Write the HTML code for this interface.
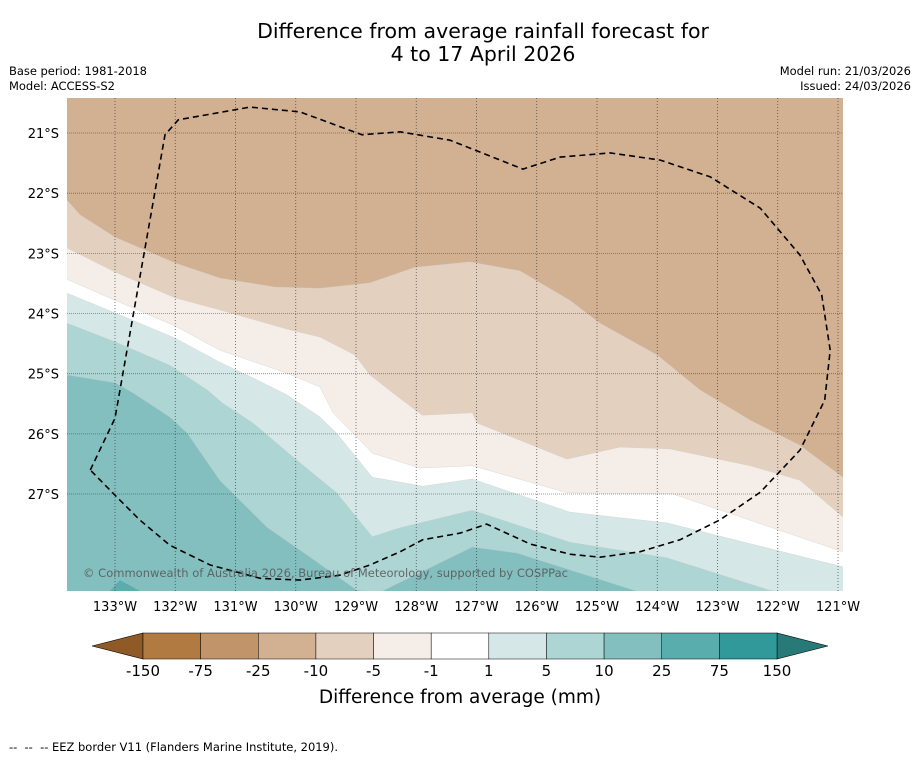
<!DOCTYPE html>
<html><head><meta charset="utf-8"><style>
body{margin:0;background:#fff;font-family:"Liberation Sans","DejaVu Sans",sans-serif;}
</style></head><body>
<svg id="chart" width="919" height="758" xmlns="http://www.w3.org/2000/svg" style="font-family:'DejaVu Sans','Liberation Sans',sans-serif">
<rect width="919" height="758" fill="#fff"/>
<text x="483" y="38" font-size="20.5" text-anchor="middle">Difference from average rainfall forecast for</text>
<text x="483" y="61" font-size="20.5" text-anchor="middle">4 to 17 April 2026</text>
<text x="9" y="75" font-size="11.5" textLength="138">Base period: 1981-2018</text>
<text x="9" y="90" font-size="11.5" textLength="106">Model: ACCESS-S2</text>
<text x="911" y="75" font-size="11.5" text-anchor="end">Model run: 21/03/2026</text>
<text x="911" y="90" font-size="11.5" text-anchor="end">Issued: 24/03/2026</text>
<defs><clipPath id="mapclip"><rect x="67" y="98" width="776" height="493"/></clipPath></defs>
<g id="map" clip-path="url(#mapclip)"></g>
<g id="grid"></g>
<g id="eez" clip-path="url(#mapclip)"></g>
<text x="83" y="577" font-size="11.5" textLength="485" fill="#555" fill-opacity="0.85">© Commonwealth of Australia 2026, Bureau of Meteorology, supported by COSPPac</text>
<g id="ticks"></g>
<g id="cbar"></g>
<text x="460" y="703" font-size="18.5" text-anchor="middle">Difference from average (mm)</text>
<text x="9" y="751" font-size="11.5" textLength="329">-- &#160;-- &#160;-- EEZ border V11 (Flanders Marine Institute, 2019).</text>
</svg>
<script>
// Contour boundaries (lon °W, lat °S), each is the upper edge of a band
const bandColors = ["#d2b092","#e4d0bf","#f4ede8","#ffffff","#d5e8e7","#acd5d4","#84bfbf","#5aadad"];
const line10 = [[133.8,22.11],[133.58,22.36],[133,22.73],[132,23.16],[131.26,23.41],[130.34,23.56],[129.6,23.58],[128.77,23.49],[128.02,23.23],[127.11,23.14],[126.28,23.29],[125.45,23.78],[124.95,24.16],[124,24.69],[123.29,25.27],[122.46,25.77],[121.63,26.19],[120.92,26.72]];
const line5 = [[133.8,22.91],[133,23.31],[132,23.74],[131.26,23.94],[130.1,24.27],[129.6,24.39],[129.02,24.69],[128.77,25.02],[128.35,25.35],[127.9,25.69],[127.07,25.65],[126.99,25.82],[125.5,26.42],[124.62,26.22],[123.79,26.25],[122.46,26.53],[121.63,26.77],[120.92,27.38]];
const line1n = [[133.8,23.43],[133,23.78],[132,24.21],[131.26,24.61],[130.15,24.99],[129.6,25.22],[129.38,25.65],[128.73,26.32],[127.94,26.57],[127.07,26.53],[125.5,26.98],[123.74,27.0],[120.92,27.96]];
const line1p = [[133.8,23.66],[133,23.99],[132,24.41],[131.26,24.81],[130.71,25.07],[130.15,25.35],[129.6,25.72],[129.32,25.99],[128.73,26.72],[127.89,26.87],[127.07,26.75],[125.45,27.3],[123.84,27.48],[120.92,28.21]];
const line5p = [[133.8,24.16],[133,24.47],[132.09,24.86],[131.47,25.27],[131.21,25.49],[130.71,25.82],[130.05,26.38],[129.32,26.98],[128.73,27.71],[128.27,27.56],[127.07,27.27],[125.45,27.8],[123.84,28.06],[122.13,28.6],[120.92,28.76]];
const line10p = [[133.8,25.02],[133,25.15],[132.7,25.32],[132.09,25.72],[131.8,25.99],[131.26,26.77],[130.48,27.55],[129.76,28.05],[128.98,28.6],[128.6,28.63],[127.07,27.88],[126.33,27.98],[124.29,28.63],[120.92,29.6]];
const patch25 = [[133.08,28.61],[132.92,28.43],[132.59,28.61]];
const eezBorder = [[133.41,26.6],[133,25.74],[132.17,21.03],[131.95,20.78],[130.76,20.57],[129.93,20.65],[128.9,21.03],[128.27,20.98],[127.44,21.12],[126.23,21.6],[125.61,21.4],[124.78,21.33],[123.95,21.45],[123.12,21.73],[122.29,22.25],[121.63,23.03],[121.27,23.69],[121.13,24.61],[121.22,25.44],[121.63,26.27],[122.29,26.97],[122.96,27.43],[123.62,27.76],[124.29,27.96],[124.95,28.05],[125.45,28.0],[126.11,27.83],[126.83,27.5],[127.27,27.65],[127.89,27.76],[128.27,27.96],[128.77,28.18],[129.27,28.35],[129.93,28.43],[130.59,28.4],[131.42,28.18],[132.09,27.85],[132.59,27.43],[133,27.02],[133.41,26.6]];
const lonTicks = [133,132,131,130,129,128,127,126,125,124,123,122,121];
const latTicks = [21,22,23,24,25,26,27];
const cbarLabels = ["-150","-75","-25","-10","-5","-1","1","5","10","25","75","150"];
const cbarColors = ["#b07a40","#c19469","#d2b092","#e4d0bf","#f4ede8","#ffffff","#d5e8e7","#acd5d4","#84bfbf","#5aadad","#32999a"];

const NS="http://www.w3.org/2000/svg";
const xS = lonW => 115 + (133 - lonW) * 60.25;
const yS = latS => 133 + (latS - 21) * 60.17;
function mk(tag, attrs, parent){const e=document.createElementNS(NS,tag);for(const k in attrs)e.setAttribute(k,attrs[k]);parent.appendChild(e);return e;}
function pts(line){return line.map(p=>xS(p[0]).toFixed(1)+","+yS(p[1]).toFixed(1)).join(" ");}
const map=document.getElementById("map");
const bg=mk("rect",{x:60,y:90,width:800,height:520,fill:bandColors[0]},map);


const lines=[line10,line5,line1n,line1p,line5p,line10p];
const names=['band-minus10-to-minus5','band-minus5-to-minus1','band-minus1-to-1','band-1-to-5','band-5-to-10','band-10-to-25'];
lines.forEach((ln,i)=>{
  const first=ln[0], last=ln[ln.length-1];
  const poly = pts(ln)+" "+(xS(last[0])+20)+","+yS(last[1])+" "+(xS(last[0])+20)+",700 "+(xS(first[0])-20)+",700 "+(xS(first[0])-20)+","+yS(first[1]);
  const e=mk("polygon",{points:poly,fill:bandColors[i+1],stroke:"#c8c8c8","stroke-width":0.5,"stroke-opacity":0.6},map);
  
  
});
const p25=mk("polygon",{points:pts(patch25),fill:bandColors[7]},map);



const grid=document.getElementById("grid");
const ticks=document.getElementById("ticks");
lonTicks.forEach(l=>{
  const x=xS(l);
  const g=mk("line",{x1:x,x2:x,y1:98,y2:591,stroke:"#333","stroke-width":0.8,"stroke-dasharray":"1,2","stroke-opacity":0.8},grid);
  
  
  const t=mk("text",{x:x,y:611,"font-size":13,"text-anchor":"middle"},ticks);
  t.textContent=l+"°W";
  
  
});
latTicks.forEach(l=>{
  const y=yS(l);
  const g=mk("line",{x1:67,x2:843,y1:y,y2:y,stroke:"#333","stroke-width":0.8,"stroke-dasharray":"1,1","stroke-opacity":0.6},grid);
  
  
  const t=mk("text",{x:59,y:y+5,"font-size":13,"text-anchor":"end"},ticks);
  t.textContent=l+"°S";
  
  
});
const eez=document.getElementById("eez");
const ez=mk("polyline",{points:pts(eezBorder),fill:"none",stroke:"#000","stroke-width":1.6,"stroke-dasharray":"6,4"},eez);



const cb=document.getElementById("cbar");
const x0=143, x1=777, cy0=633, cy1=659, w=(x1-x0)/cbarColors.length;
const la=mk("polygon",{points:`92,646 ${x0},${cy0} ${x0},${cy1}`,fill:"#8f5a26",stroke:"#000","stroke-width":0.6},cb);


const ra=mk("polygon",{points:`828,646 ${x1},${cy0} ${x1},${cy1}`,fill:"#287a78",stroke:"#000","stroke-width":0.6},cb);


cbarColors.forEach((c,i)=>{
  const r=mk("rect",{x:x0+i*w,y:cy0,width:w,height:cy1-cy0,fill:c,stroke:"#000","stroke-width":0.5},cb);
  
  
});
cbarLabels.forEach((s,i)=>{
  const t=mk("text",{x:x0+i*w,y:676,"font-size":15,"text-anchor":"middle"},cb);
  t.textContent=s;
  
  
});
</script>
</body></html>
